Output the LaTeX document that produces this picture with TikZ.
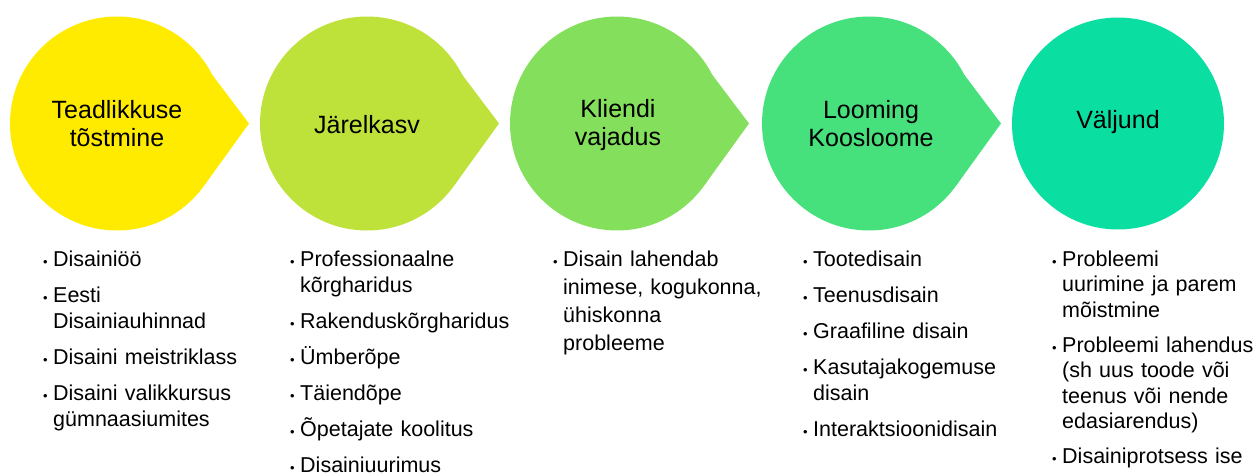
\documentclass[tikz,border=0pt]{standalone}
\usepackage{fontspec}
\setmainfont{Liberation Sans}
\usepackage{tikz}
\usetikzlibrary{positioning}

\definecolor{stageA}{HTML}{FFEB00}
\definecolor{stageB}{HTML}{BFE23B}
\definecolor{stageC}{HTML}{84E05C}
\definecolor{stageD}{HTML}{46E07C}
\definecolor{stageE}{HTML}{0ADFA1}

\tikzstyle{title} = [align=center, inner sep=0pt, font=\fontsize{25}{28}\selectfont]
\tikzstyle{list} = [anchor=base west, inner sep=0pt, text width=215pt, align=left, font=\fontsize{21.5}{26}\selectfont]

% circle with a point on its right side
\newcommand{\dropshape}[2]{%
  \fill[#2] (#1,123.5) circle (107);
  \fill[#2] (#1,123.5) -- ++(-27:107) -- (#1+132,123.5) -- ($(#1,123.5)+(35:107)$) -- cycle;
}
\newcommand{\bdot}{\makebox[10pt][l]{\raisebox{0pt}{\scalebox{0.6}{\textbullet}}}}
\newcommand{\bskip}{\hspace*{10pt}}

\usetikzlibrary{calc}

\begin{document}
\begin{tikzpicture}[x=1pt,y=-1pt]
  \useasboundingbox (0,0) rectangle (1255,473);

  \dropshape{117}{stageA}
  \dropshape{367}{stageB}
  \dropshape{617}{stageC}
  \dropshape{869}{stageD}
  \fill[stageE] (1118,123.5) circle (106);

  \node[title] (t1) at (117,124) {Teadlikkuse\\tõstmine};
  \node[title] (t2) at (367,125) {Järelkasv};
  \node[title] (t3) at (618,125) {Kliendi\\vajadus};
  \node[title] (t4) at (871,124) {Looming\\Koosloome};
  \node[title] (t5) at (1118,122) {Väljund};

  \node[list] (l1) at (43,266) {\bdot Disainiöö\\[10pt]
    \bdot Eesti\\ \bskip Disainiauhinnad\\[10pt]
    \bdot Disaini meistriklass\\[10pt]
    \bdot Disaini valikkursus\\ \bskip gümnaasiumites};
  \node[list] (l2) at (290,266) {\bdot Professionaalne\\ \bskip kõrgharidus\\[10pt]
    \bdot Rakenduskõrgharidus\\[10pt]
    \bdot Ümberõpe\\[10pt]
    \bdot Täiendõpe\\[10pt]
    \bdot Õpetajate koolitus\\[10pt]
    \bdot Disainiuurimus};
  \node[list, font=\fontsize{21.5}{28}\selectfont] (l3) at (553,266) {\bdot Disain lahendab\\
    \bskip inimese, kogukonna,\\ \bskip ühiskonna\\ \bskip probleeme};
  \node[list] (l4) at (803,266) {\bdot Tootedisain\\[10pt]
    \bdot Teenusdisain\\[10pt]
    \bdot Graafiline disain\\[10pt]
    \bdot Kasutajakogemuse\\ \bskip disain\\[10pt]
    \bdot Interaktsioonidisain};
  \node[list, font=\fontsize{21.5}{25.5}\selectfont] (l5) at (1052,266) {\bdot Probleemi\\ \bskip uurimine ja parem\\ \bskip mõistmine\\[9.5pt]
    \bdot Probleemi lahendus\\ \bskip (sh uus toode või\\ \bskip teenus või nende\\ \bskip edasiarendus)\\[9.5pt]
    \bdot Disainiprotsess ise};
\end{tikzpicture}
\end{document}
